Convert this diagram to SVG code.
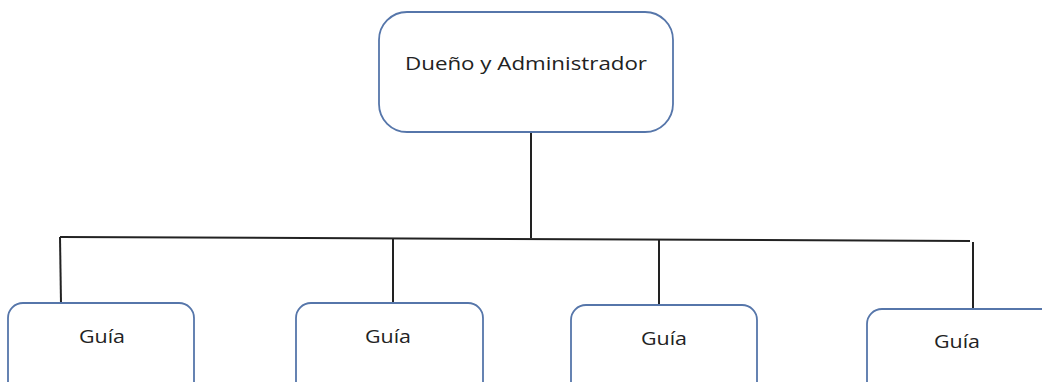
<svg xmlns="http://www.w3.org/2000/svg" width="1042" height="382" viewBox="0 0 1042 382">
<style>
.box{fill:#ffffff;stroke:#5676aa;stroke-width:1.8}
.lbl{font-family:"Open Sans","Noto Sans","DejaVu Sans",sans-serif;font-size:18px;fill:#222222;text-anchor:middle}
.ln{stroke:#222222;stroke-width:2;fill:none}
</style>
<rect width="1042" height="382" fill="#ffffff"/>
<g id="connectors">
<line class="ln" x1="531" y1="132" x2="531" y2="238"/>
<line class="ln" x1="60" y1="237" x2="970" y2="241"/>
<line class="ln" x1="60" y1="237" x2="61" y2="303"/>
<line class="ln" x1="393" y1="238" x2="393" y2="303"/>
<line class="ln" x1="659" y1="239" x2="659" y2="305"/>
<line class="ln" x1="973" y1="242" x2="973" y2="309"/>
</g>
<g id="node-owner">
<rect class="box" x="379" y="12" width="294" height="120" rx="28" ry="28"/>
<text class="lbl" x="526" y="70" textLength="242" lengthAdjust="spacingAndGlyphs">Dueño y Administrador</text>
</g>
<g id="node-guia1">
<rect class="box" x="8" y="303" width="186" height="110" rx="15" ry="15"/>
<text class="lbl" x="102" y="343" textLength="46" lengthAdjust="spacingAndGlyphs">Guía</text>
</g>
<g id="node-guia2">
<rect class="box" x="296" y="303" width="187" height="110" rx="15" ry="15"/>
<text class="lbl" x="388" y="343" textLength="46" lengthAdjust="spacingAndGlyphs">Guía</text>
</g>
<g id="node-guia3">
<rect class="box" x="571" y="305" width="186" height="110" rx="15" ry="15"/>
<text class="lbl" x="664" y="345" textLength="46" lengthAdjust="spacingAndGlyphs">Guía</text>
</g>
<g id="node-guia4">
<rect class="box" x="867" y="309" width="190" height="110" rx="15" ry="15"/>
<text class="lbl" x="957" y="348" textLength="46" lengthAdjust="spacingAndGlyphs">Guía</text>
</g>
</svg>
